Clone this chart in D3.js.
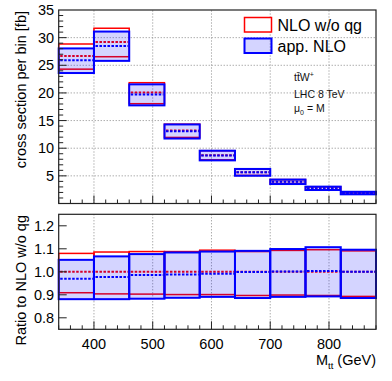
<!DOCTYPE html>
<html>
<head>
<meta charset="utf-8">
<script src="https://cdn.jsdelivr.net/npm/d3@7"></script>
<style>
  body { margin: 0; background: #fff; }
  svg { display: block; font-family: "Liberation Sans", Arial, sans-serif; }
</style>
</head>
<body>
<svg id="chart" width="392" height="381"></svg>
<script>
// bin edges in M_tt (GeV)
const binEdges = [340, 400, 460, 520, 580, 640, 700, 760, 820, 880];

// top panel, cross section per bin [fb]
const nloCen = [26.7, 29.2, 20.1, 13.2, 8.75, 5.65, 3.95, 2.75, 1.9];
const nloUp  = [28.85, 31.7, 21.85, 14.35, 9.55, 6.2, 4.32, 3.02, 2.1];
const nloDn  = [24.3, 26.55, 18.05, 11.95, 7.9, 5.08, 3.55, 2.46, 1.68];
const appCen = [25.9, 28.5, 19.7, 13.05, 8.7, 5.65, 3.95, 2.75, 1.9];
const appUp  = [28.05, 31.1, 21.55, 14.3, 9.55, 6.25, 4.33, 3.05, 2.12];
const appDn  = [23.6, 25.8, 17.75, 11.75, 7.8, 5.02, 3.52, 2.44, 1.66];

// ratio panel, relative to NLO w/o qg
const rNloUp  = [1.080, 1.086, 1.088, 1.088, 1.094, 1.088, 1.093, 1.096, 1.091];
const rNloDn  = [0.909, 0.904, 0.903, 0.901, 0.901, 0.897, 0.899, 0.897, 0.893];
const rAppCen = [0.970, 0.977, 0.986, 0.988, 0.991, 0.999, 1.001, 1.004, 1.000];
const rAppUp  = [1.052, 1.067, 1.077, 1.084, 1.088, 1.091, 1.099, 1.107, 1.096];
const rAppDn  = [0.881, 0.881, 0.883, 0.887, 0.891, 0.886, 0.891, 0.893, 0.886];

const xTicks = [400, 500, 600, 700, 800];
const yTicks = [5, 10, 15, 20, 25, 30, 35];
const rTicks = [0.8, 0.9, 1.0, 1.1, 1.2];

const svg = d3.select('#chart');
const left = 58.7, right = 376;
const RED = '#ff0000', BLUE = '#0000ff', FILL = 'rgba(0,0,255,0.17)';

const x = d3.scaleLinear().domain([340, 880]).range([left, right]);
const y = d3.scaleLinear().domain([0, 35]).range([203.5, 10]);
const yr = d3.scaleLinear().domain([0.75, 1.25]).range([329.3, 214.3]);

const bins = d3.range(binEdges.length - 1).map(i => ({ x0: binEdges[i], x1: binEdges[i + 1], i }));

function drawGrid(g, ys, hTicks, drawHGrid) {
  const [yb, yt] = ys.range();
  g.selectAll(null).data(xTicks).join('line')
    .attr('x1', d => x(d)).attr('x2', d => x(d))
    .attr('y1', yb).attr('y2', yt)
    .attr('stroke', '#888').attr('stroke-width', 1).attr('stroke-dasharray', '1,2');
  if (drawHGrid) {
    g.selectAll(null).data(hTicks.filter(d => d < ys.domain()[1])).join('line')
      .attr('x1', left).attr('x2', right)
      .attr('y1', d => ys(d)).attr('y2', d => ys(d))
      .attr('stroke', '#888').attr('stroke-width', 1).attr('stroke-dasharray', '1,2');
  }
}

function ticksAndFrame(g, ys, hTicks, minorY) {
  const [yb, yt] = ys.range();
  g.selectAll(null).data(d3.range(340, 881, 20)).join('line')
    .attr('x1', d => x(d)).attr('x2', d => x(d))
    .attr('y1', yb).attr('y2', d => yb - (xTicks.includes(d) ? 8 : 4))
    .attr('stroke', '#222').attr('stroke-width', 1);
  g.selectAll(null).data(minorY).join('line')
    .attr('x1', left).attr('x2', d => left + (hTicks.includes(d) ? 8 : 4.5))
    .attr('y1', d => ys(d)).attr('y2', d => ys(d))
    .attr('stroke', '#222').attr('stroke-width', 1);
  g.append('rect')
    .attr('x', left).attr('y', yt).attr('width', right - left).attr('height', yb - yt)
    .attr('fill', 'none').attr('stroke', '#222').attr('stroke-width', 1.2);
}

function drawBands(g, ys, up, dn, cen, red) {
  g.selectAll(null).data(bins).join('rect')
    .attr('x', d => x(d.x0)).attr('width', d => x(d.x1) - x(d.x0))
    .attr('y', d => ys(up[d.i])).attr('height', d => ys(dn[d.i]) - ys(up[d.i]))
    .attr('fill', red ? 'none' : FILL)
    .attr('stroke', red ? RED : BLUE).attr('stroke-width', red ? 1.5 : 2);
  g.selectAll(null).data(bins).join('line')
    .attr('x1', d => x(d.x0) + 1.5).attr('x2', d => x(d.x1) - 1)
    .attr('y1', d => ys(cen(d.i))).attr('y2', d => ys(cen(d.i)))
    .attr('stroke', red ? RED : BLUE).attr('stroke-width', 2).attr('stroke-dasharray', '2.5,1.5');
}

// ---- top panel
const upper = svg.append('g');
drawGrid(upper, y, yTicks, true);
drawBands(upper, y, nloUp, nloDn, i => nloCen[i], true);
drawBands(upper, y, appUp, appDn, i => appCen[i], false);
ticksAndFrame(upper, y, yTicks, d3.range(1, 35, 1));

upper.selectAll(null).data(yTicks).join('text')
  .attr('x', left - 4.5).attr('y', d => y(d) + 5)
  .attr('text-anchor', 'end').attr('font-size', 14.5).text(d => d);

upper.append('text')
  .attr('transform', 'translate(26,11) rotate(-90)')
  .attr('text-anchor', 'end').attr('font-size', 14.5)
  .text('cross section per bin [fb]');

// legend
const leg = svg.append('g');
leg.append('rect').attr('x', 244.5).attr('y', 17.5).attr('width', 27).attr('height', 14.5)
  .attr('fill', '#fff').attr('stroke', RED).attr('stroke-width', 1.5);
leg.append('rect').attr('x', 244.5).attr('y', 38.5).attr('width', 27).attr('height', 14.5)
  .attr('fill', FILL).attr('stroke', BLUE).attr('stroke-width', 2);
leg.append('text').attr('x', 277.5).attr('y', 30.5).attr('font-size', 16).text('NLO w/o qg');
leg.append('text').attr('x', 277.5).attr('y', 51.5).attr('font-size', 16).text('app. NLO');

// process annotation
const ann = svg.append('g').attr('font-size', 10.5).attr('fill', '#111');
const t1 = ann.append('text').attr('x', 294).attr('y', 81);
t1.append('tspan').text('tt\u0304W');
t1.append('tspan').attr('dy', -4).attr('font-size', 7).text('+');
ann.append('text').attr('x', 294).attr('y', 97.5).text('LHC 8 TeV');
const t3 = ann.append('text').attr('x', 294).attr('y', 111.5);
t3.append('tspan').text('\u03bc');
t3.append('tspan').attr('dy', 3).attr('font-size', 7).text('0');
t3.append('tspan').attr('dy', -3).text(' = M');

// ---- ratio panel
const lower = svg.append('g');
drawGrid(lower, yr, rTicks, false);
drawBands(lower, yr, rNloUp, rNloDn, () => 1, true);
drawBands(lower, yr, rAppUp, rAppDn, i => rAppCen[i], false);
ticksAndFrame(lower, yr, rTicks, rTicks);

lower.selectAll(null).data(rTicks).join('text')
  .attr('x', left - 4.5).attr('y', d => yr(d) + 5)
  .attr('text-anchor', 'end').attr('font-size', 14.5).text(d => d.toFixed(1));

lower.selectAll(null).data(xTicks).join('text')
  .attr('x', d => x(d)).attr('y', 349)
  .attr('text-anchor', 'middle').attr('font-size', 14.5).text(d => d);

lower.append('text')
  .attr('transform', 'translate(26,215) rotate(-90)')
  .attr('text-anchor', 'end').attr('font-size', 14.5)
  .text('Ratio to NLO w/o qg');

const xt = lower.append('text').attr('x', 376).attr('y', 365).attr('text-anchor', 'end').attr('font-size', 14.5);
xt.append('tspan').text('M');
xt.append('tspan').attr('dy', 4).attr('font-size', 9.5).text('tt');
xt.append('tspan').attr('dy', -4).text(' (GeV)');
</script>
</body>
</html>
